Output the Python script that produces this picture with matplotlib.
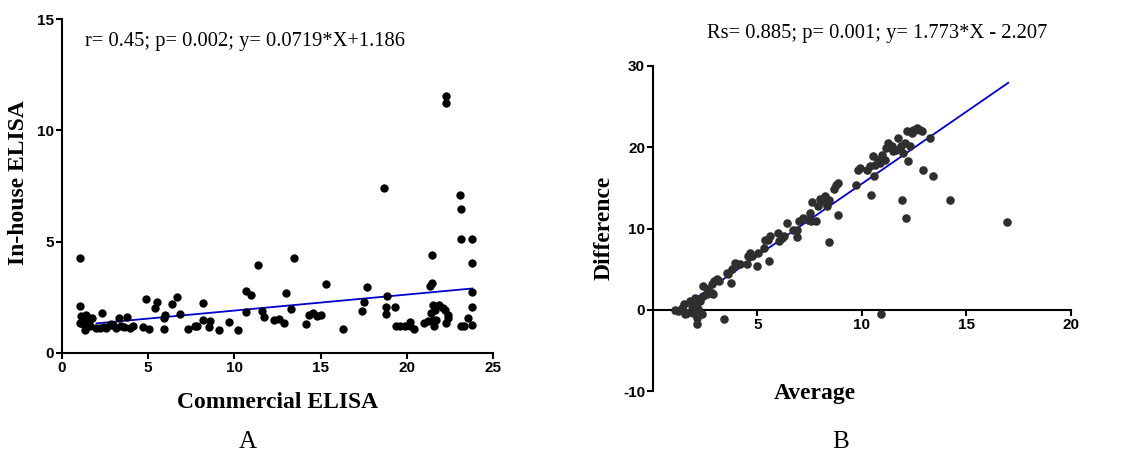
import numpy as np
import matplotlib.pyplot as plt

plt.rcParams['axes.unicode_minus'] = False

# Panel A: commercial vs in-house ELISA
commercial = [1.02, 1.02, 1.02, 1.12, 1.31, 1.35, 1.41, 1.57, 1.76, 1.99,
              2.32, 2.18, 2.57, 2.76, 3.15, 3.29, 3.44, 3.79, 3.92, 4.12,
              4.70, 4.85, 5.05, 5.39, 5.51, 5.90, 5.99, 5.92, 6.38, 6.67,
              6.86, 7.31, 7.70, 7.83, 8.20, 8.18, 8.53, 8.60, 9.09, 9.69,
              10.21, 10.69, 10.98, 10.69, 11.37, 11.60, 11.70, 12.28, 12.59, 12.90,
              12.97, 13.30, 13.48, 14.17, 14.33, 14.56, 14.81, 15.00, 15.29, 16.30,
              17.38, 17.50, 17.69, 18.66, 18.85, 18.77, 18.77, 19.30, 19.35, 19.59,
              19.88, 20.17, 20.20, 20.40, 20.98, 21.23, 21.33, 21.46, 21.48, 21.42,
              21.52, 21.62, 21.52, 21.58, 21.71, 21.87, 22.10, 22.20, 22.29, 22.29,
              22.29, 22.39, 22.39, 23.07, 23.16, 23.16, 23.16, 23.32, 23.55, 23.78,
              23.78, 23.78, 23.78, 23.78, 1.20, 1.60, 2.45, 2.95, 3.60, 2.85]
inhouse = [4.26, 2.12, 1.35, 1.64, 1.50, 1.05, 1.72, 1.42, 1.57, 1.12,
           1.79, 1.12, 1.12, 1.27, 1.12, 1.57, 1.23, 1.62, 1.12, 1.20,
           1.15, 2.44, 1.09, 2.00, 2.29, 1.57, 1.72, 1.08, 2.20, 2.51,
           1.75, 1.08, 1.23, 1.20, 2.24, 1.50, 1.15, 1.45, 1.03, 1.38,
           1.03, 2.80, 2.60, 1.84, 3.96, 1.90, 1.63, 1.48, 1.54, 1.35,
           2.69, 1.99, 4.26, 1.32, 1.72, 1.79, 1.67, 1.72, 3.11, 1.08,
           1.90, 2.27, 2.96, 7.43, 2.54, 2.06, 1.75, 2.05, 1.20, 1.23,
           1.20, 1.38, 1.20, 1.08, 1.35, 1.42, 3.02, 3.14, 4.38, 1.79,
           2.17, 1.94, 1.50, 1.20, 1.50, 2.17, 2.02, 1.94, 1.35, 11.54,
           11.22, 1.72, 1.57, 7.10, 6.48, 5.11, 1.20, 1.20, 1.57, 5.13,
           4.04, 2.72, 2.05, 1.26, 1.30, 1.20, 1.15, 1.25, 1.15, 1.30]
fit_a_x = [2.0, 23.8]
slope_a, icpt_a = 0.0719, 1.186

# Panel B: Bland-Altman style
average = [1.06, 1.22, 1.38, 1.49, 1.54, 1.62, 1.46, 1.78, 1.86, 1.94,
           2.02, 2.10, 2.10, 2.13, 2.18, 2.26, 2.34, 2.39, 2.42, 2.58,
           2.66, 2.82, 2.90, 2.82, 2.93, 3.06, 3.18, 3.41, 3.53, 3.61,
           3.72, 3.77, 3.93, 4.01, 4.17, 4.52, 4.57, 4.65, 4.73, 4.97,
           5.05, 5.32, 5.37, 5.53, 5.61, 5.58, 6.00, 6.05, 6.16, 6.27,
           6.40, 6.72, 6.88, 6.92, 7.01, 7.20, 7.44, 7.52, 7.55, 7.60,
           7.80, 7.92, 8.00, 8.16, 8.24, 8.32, 8.44, 8.44, 8.67, 8.76,
           8.87, 8.87, 9.72, 9.83, 9.91, 10.23, 10.39, 10.42, 10.55, 10.58,
           10.63, 10.79, 10.87, 10.95, 10.90, 11.11, 11.15, 11.27, 11.43, 11.50,
           11.63, 11.74, 11.85, 11.90, 11.98, 12.06, 12.11, 12.14, 12.22, 12.30,
           12.38, 12.46, 12.54, 12.62, 12.78, 12.86, 12.94, 13.26, 13.39, 14.21,
           16.92]
difference = [0.00, -0.12, 0.29, 0.69, -0.53, -0.33, -0.12, 1.10, 0.49, -0.33,
              1.51, 0.90, -0.94, -1.76, 0.08, 1.10, -0.53, 1.72, 2.94, 1.92,
              2.53, 2.13, 1.92, 3.15, 3.56, 3.76, 3.56, -1.14, 4.58, 4.37,
              3.35, 4.99, 5.80, 5.60, 5.60, 5.60, 6.62, 7.03, 6.62, 5.39,
              7.03, 7.64, 8.66, 8.66, 9.07, 6.01, 9.48, 8.46, 8.87, 9.07,
              10.71, 9.89, 9.89, 8.99, 10.91, 11.32, 11.12, 11.93, 10.91, 13.24,
              10.91, 12.75, 13.65, 13.36, 13.98, 12.75, 13.57, 8.34, 14.88, 15.41,
              15.61, 11.73, 15.41, 17.25, 17.45, 17.25, 17.65, 14.18, 18.88, 16.43,
              17.86, 18.47, 18.06, 19.08, -0.53, 18.47, 19.90, 20.52, 20.11, 19.49,
              19.70, 21.13, 20.11, 13.57, 19.29, 20.52, 11.32, 21.95, 18.27, 20.11,
              21.74, 22.15, 22.15, 22.35, 22.15, 21.95, 17.25, 21.13, 16.43, 13.57,
              10.79]
fit_b_x = [1.0, 17.0]
slope_b, icpt_b = 1.773, -2.207

W, H = 1137, 455
fig = plt.figure(figsize=(W / 100, H / 100), dpi=100)

serif = 'Liberation Serif'


def style_ticks(ax):
    ax.tick_params(direction='out', length=4, width=1.5, pad=1.5)
    for lab in ax.get_xticklabels() + ax.get_yticklabels():
        lab.set_fontfamily('Liberation Sans')
        lab.set_fontweight('bold')
        lab.set_fontsize(11)


# --- panel A ---
axA = fig.add_axes([62 / W, 1 - 353 / H, (493 - 62) / W, (353 - 19) / H])
axA.scatter(commercial, inhouse, s=36, color='black', zorder=3, linewidths=0)
fx = np.array(fit_a_x)
axA.plot(fx, slope_a * fx + icpt_a, color='#0000cc', lw=1.3, zorder=2)
axA.set_xlim(0, 25)
axA.set_ylim(0, 15)
axA.set_xticks([0, 5, 10, 15, 20, 25])
axA.set_yticks([0, 5, 10, 15])
for s in ['top', 'right']:
    axA.spines[s].set_visible(False)
for s in ['left', 'bottom']:
    axA.spines[s].set_linewidth(1.5)
style_ticks(axA)

# --- panel B ---
axB = fig.add_axes([652.7 / W, 1 - 391.3 / H, (1071 - 652.7) / W, (391.3 - 66) / H])
axB.scatter(average, difference, s=38, color='#2e2e2e', zorder=3, linewidths=0)
fx = np.array(fit_b_x)
axB.plot(fx, slope_b * fx + icpt_b, color='#0000cc', lw=1.3, zorder=2)
axB.set_xlim(0, 20)
axB.set_ylim(-10, 30)
axB.set_xticks([5, 10, 15, 20])
axB.set_yticks([-10, 0, 10, 20, 30])
axB.spines['bottom'].set_position(('data', 0))
for s in ['top', 'right']:
    axB.spines[s].set_visible(False)
for s in ['left', 'bottom']:
    axB.spines[s].set_linewidth(1.5)
style_ticks(axB)

# --- text ---
fig.text(85 / W, 1 - 46 / H, 'r= 0.45; p= 0.002; y= 0.0719*X+1.186',
         family=serif, size=14.8, ha='left', va='baseline')
fig.text(707 / W, 1 - 38 / H, 'Rs= 0.885; p= 0.001; y= 1.773*X - 2.207',
         family=serif, size=14.8, ha='left', va='baseline')

fig.text(19 / W, 1 - 183 / H, 'In-house ELISA', family=serif, weight='bold',
         size=17, rotation=90, ha='center', va='center')
fig.text(278 / W, 1 - 402 / H, 'Commercial ELISA', family=serif, weight='bold',
         size=17, ha='center', va='center')
fig.text(604 / W, 1 - 228 / H, 'Difference', family=serif, weight='bold',
         size=17, rotation=90, ha='center', va='center')
fig.text(815 / W, 1 - 393 / H, 'Average', family=serif, weight='bold',
         size=17, ha='center', va='center')

fig.text(248 / W, 1 - 442 / H, 'A', family=serif, size=18, ha='center', va='center')
fig.text(841 / W, 1 - 442 / H, 'B', family=serif, size=18, ha='center', va='center')

fig.savefig('out.png', dpi=100)
